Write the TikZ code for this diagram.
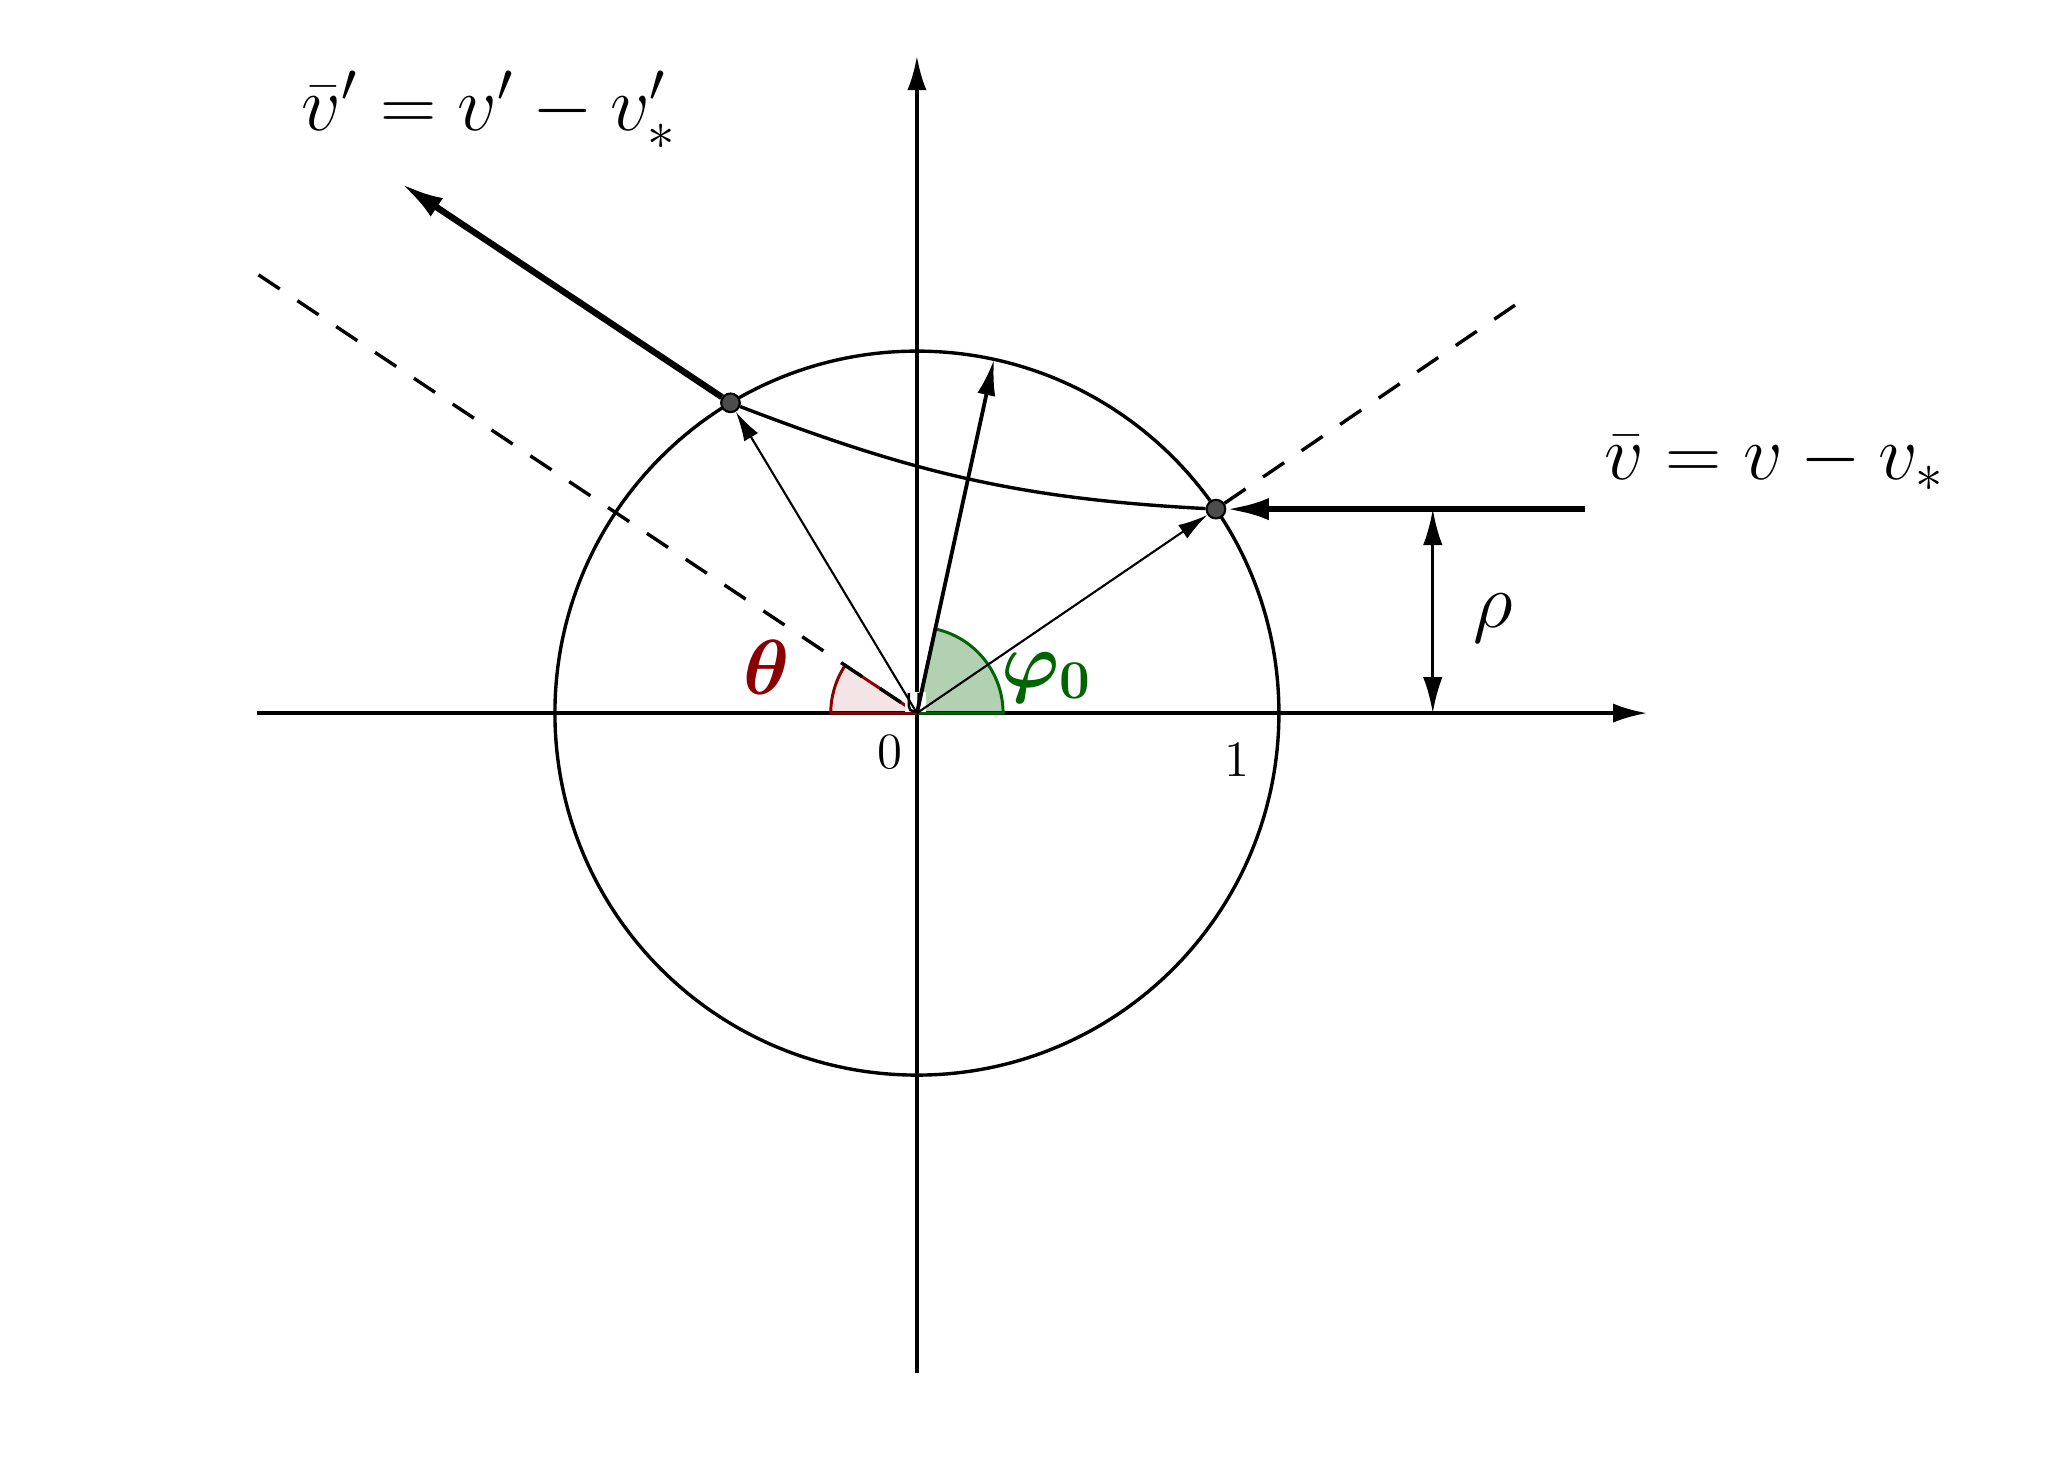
\RequirePackage{fix-cm}
\documentclass[tikz,border=0pt]{standalone}
\usepackage{amsmath}
\usepackage{amssymb}
\usepackage{tikz}
\usetikzlibrary{arrows.meta,positioning,calc,backgrounds}
\definecolor{thetared}{RGB}{139,0,0}
\definecolor{phigreen}{RGB}{0,100,0}
\newcommand{\labfont}{\fontsize{18.4}{22}\selectfont}

\begin{document}
\begin{tikzpicture}
[x=3cm,y=3cm,
axis/.style={line width=.8pt,-{Latex[length=8pt,width=4.5pt]}},
vec/.style={line width=.5pt,-{Latex[length=7pt,width=3.8pt]}},
bigvec/.style={line width=1.5pt,-{Latex[length=10pt,width=5.2pt]}},
guide/.style={line width=.8pt,dash pattern=on 6pt off 5pt},
dot/.style={circle,draw=black,line width=.5pt,fill=black!70,inner sep=0pt,minimum size=4.4pt},
lab/.style={font=\labfont}]
\useasboundingbox (-2.533,-2.061) rectangle (3.177,1.970);
%%
\coordinate (O) at (0,0);
\coordinate (xl) at (-1.823,0);
\coordinate (xr) at (2.017,0);
\coordinate (yb) at (0,-1.823);
\coordinate (yt) at (0,1.815);
%%
\node[dot] (P) at (34.3:1) {};
\node[dot] (Q) at (121:1) {};
\coordinate (N) at (77.7:1);
\coordinate (vin) at ($(P)+(1.02,0)$);
\coordinate (vout) at ($(Q)+(146.35:1.092)$);
\coordinate (dl) at (146.35:2.185);
\coordinate (dr) at (34.3:2);
\coordinate (rhotop) at ($(P)+(.599,0)$);
\coordinate (rhobot) at (rhotop |- O);
%%
\begin{pgfonlayer}{background}
\draw[axis] (xl) -- (xr);
\draw[axis] (yb) -- (yt);
\draw[line width=.8pt] (O) circle[radius=1];
%%
\filldraw[draw=thetared,fill=thetared,fill opacity=.1,line width=.7pt] (O) --
(180:.238) arc[start angle=180,end angle=146.35,radius=.238] -- cycle;
\filldraw[draw=phigreen,fill=phigreen,fill opacity=.3,line width=.7pt] (O) --
(0:.238) arc[start angle=0,end angle=77.7,radius=.238] -- cycle;
\fill[white] (-.033,.004) rectangle (.025,.058);
\draw[line width=.6pt] (-.022,.055) -- (-.022,.018) arc[start angle=180,end
angle=360,radius=.0135] -- (.005,.055);
%%
\draw[guide] (dl) -- (O);
\draw[guide] (P) -- (dr);
\draw[line width=.8pt] (Q) to[out=-21,in=177] (P);
\draw[vec] (O) -- (Q);
\draw[vec] (O) -- (P);
\draw[line width=.9pt,-{Latex[length=8.5pt,width=4.3pt]}] (O) -- (N);
\draw[bigvec] (vin) -- (P);
\draw[bigvec] (Q) -- (vout);
\draw[line width=.7pt,{Latex[length=8.5pt,width=4.6pt]}-{Latex[length=8.5pt,width=4.6pt]}]
(rhobot) -- (rhotop);
\end{pgfonlayer}
%%
\node[lab,anchor=base] (vbar) at (2.370,.644) {$\bar v = v - v_*$};
\node[lab,anchor=base] (vbarprime) at (-1.182,1.610) {$\bar v' = v' - v'_*$};
\node[lab] (rho) at (1.592,.262) {$\rho$};
\node[lab,text=thetared] (theta) at (-.414,.127) {$\boldsymbol{\theta}$};
\node[lab,text=phigreen] (phi) at (.359,.099) {$\boldsymbol{\varphi_0}$};
\node[font=\large] (zero) at (-.074,-.109) {$0$};
\node[font=\large] (one) at (.884,-.130) {$1$};
\end{tikzpicture}
\end{document}
